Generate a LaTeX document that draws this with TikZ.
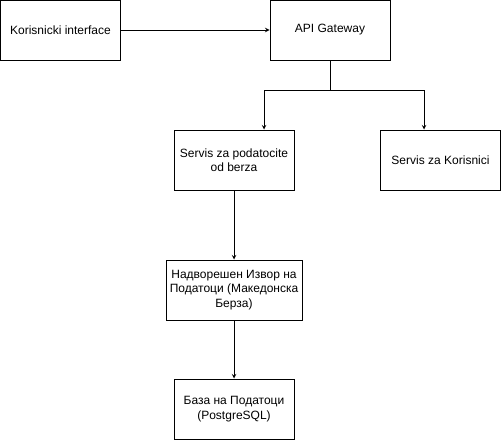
\documentclass[tikz,border=0pt]{standalone}
\usepackage{fontspec}
\setmainfont{Liberation Sans}
\tikzset{
  box/.style={draw,line width=1pt,minimum width=120pt,minimum height=60pt,
    align=center,inner sep=2pt,font=\fontsize{12}{14.5}\selectfont},
  link/.style={line width=1pt,-stealth}
}
\begin{document}
\begin{tikzpicture}[x=1pt,y=-1pt]
\useasboundingbox (0,0) rectangle (502,442);
\node[box] (ui) at (60.5,30) {Korisnicki interface};
\node[box] (gw) at (330,30) {API Gateway};
\node[box] (data) at (234,160) {Servis za podatocite\\od berza};
\node[box] (users) at (440.5,160) {Servis za Korisnici};
\node[box,minimum width=136pt] (ext) at (234,290) {Надворешен Извор на\\Податоци (Македонска\\Берза)};
\node[box] (db) at (234,409) {База на Податоци\\(PostgreSQL)};
\coordinate (split) at (330,90);
\draw[link] (ui) -- (gw);
\draw[link] (gw.south) -- (split) -| ([xshift=30pt]data.north);
\draw[link] (split) -| ([xshift=-16.5pt]users.north);
\draw[link] (data) -- (ext);
\draw[link] (ext) -- (db);
\end{tikzpicture}
\end{document}
